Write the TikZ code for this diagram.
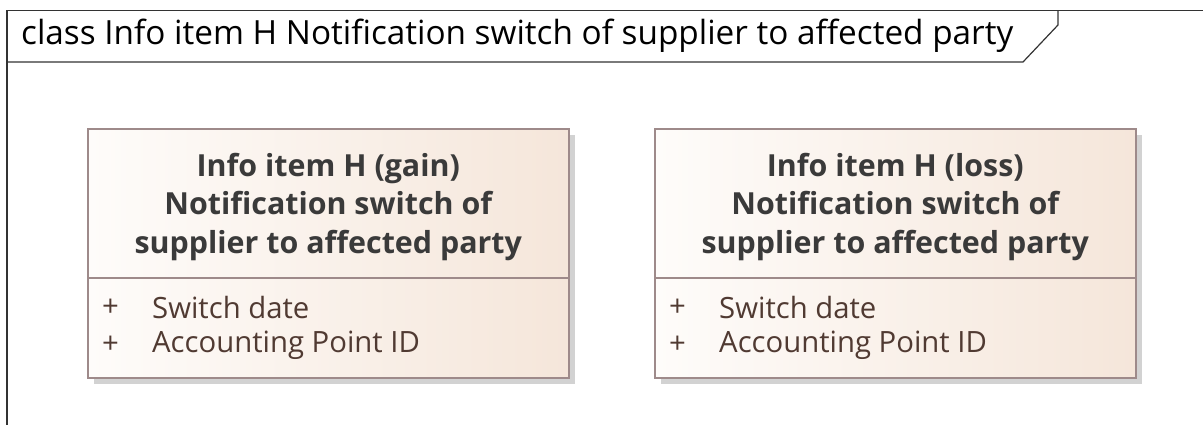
\documentclass[tikz,border=0pt]{standalone}
\usepackage{fontspec}
\setmainfont{Open Sans}
\usepackage{xcolor}
\definecolor{umlborder}{RGB}{158,138,138}
\definecolor{umlleft}{RGB}{254,252,250}
\definecolor{umlright}{RGB}{245,230,218}
\definecolor{umlshadow}{RGB}{210,210,210}
\definecolor{umltitle}{RGB}{58,58,58}
\definecolor{umlattr}{RGB}{80,58,50}
\usetikzlibrary{calc, shadows}

\tikzset{
  frameline/.style={draw=black!80, line width=1.2pt},
  classbox/.style={draw=umlborder, line width=1.6pt, minimum width=481pt, minimum height=249pt,
    inner sep=0pt, left color=umlleft, right color=umlright,
    drop shadow={shadow xshift=6pt, shadow yshift=-6pt, fill=umlshadow, opacity=1}},
  classtitle/.style={font=\fontsize{30.4}{38.5}\selectfont\bfseries, text=umltitle, align=center, inner sep=0pt},
  classattr/.style={font=\fontsize{29.3}{32}\selectfont, text=umlattr, anchor=west, inner sep=0pt}
}

\begin{document}
\begin{tikzpicture}[x=1pt, y=-1pt]
  \useasboundingbox (0,0) rectangle (1203,425);
  % Diagram frame with name tab
  \draw[frameline] (7,425) -- (7,10.5) -- (1203,10.5);
  \draw[frameline] (7,62) -- (1023,62) -- (1058,25) -- (1058,10.5);
  \node[font=\fontsize{33.3}{36}\selectfont, text=black, anchor=west, inner sep=0pt] (frametitle) at (21,36)
    {class Info item H Notification switch of supplier to affected party};
  \foreach \i/\x/\kind in {1/87/gain, 2/654/loss} {
    % Class box
    \node[classbox, anchor=north west] (box\i) at (\x,128) {};
    % Compartment line
    \coordinate (split\i) at ($(box\i.north west)+(0,150)$);
    \draw[umlborder, line width=1.6pt] (split\i) -- (split\i -| box\i.east);
    % Name
    \node[classtitle] (title\i) at ($(box\i.north)+(0,79)$)
      {Info item H (\kind)\\Notification switch of\\supplier to affected party};
    % Attributes
    \node[classattr] (plusa\i) at ($(box\i.north west)+(15,180)$) {+};
    \node[classattr] (attra\i) at ($(box\i.north west)+(65,180)$) {Switch date};
    \node[classattr] (plusb\i) at ($(box\i.north west)+(15,217)$) {+};
    \node[classattr] (attrb\i) at ($(box\i.north west)+(65,217)$) {Accounting Point ID};
  }
\end{tikzpicture}
\end{document}
